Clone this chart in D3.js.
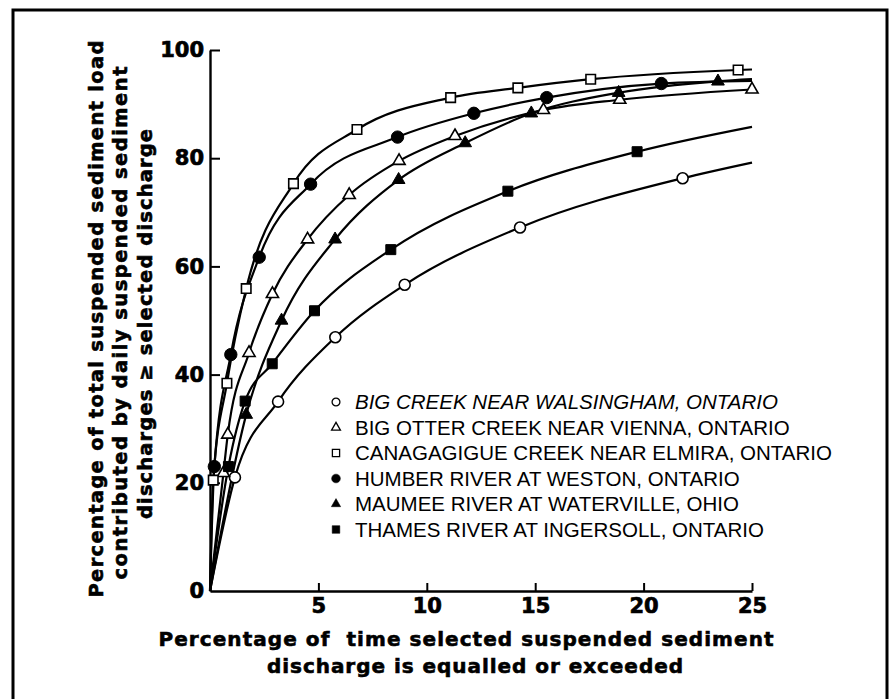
<!DOCTYPE html>
<html><head><meta charset="utf-8">
<script src="https://cdn.jsdelivr.net/npm/d3@7"></script>
<style>body{margin:0;background:#fff} svg{display:block}</style>
</head><body>
<svg id="c" width="892" height="699"></svg>
<script>
// ---- data ----
const seriesNames = [
  "BIG CREEK NEAR WALSINGHAM, ONTARIO",
  "BIG OTTER CREEK NEAR VIENNA, ONTARIO",
  "CANAGAGIGUE CREEK NEAR ELMIRA, ONTARIO",
  "HUMBER RIVER AT WESTON, ONTARIO",
  "MAUMEE RIVER AT WATERVILLE, OHIO",
  "THAMES RIVER AT INGERSOLL, ONTARIO"
];
const bigCreekX = [0, 1.15, 3.14, 5.78, 8.98, 14.3, 21.8, 25];
const bigCreekY = [0, 21.0, 35.0, 46.9, 56.6, 67.2, 76.3, 79.2];
const bigOtterX = [0, 0.62, 0.82, 1.8, 2.88, 4.5, 6.42, 8.72, 11.3, 15.38, 18.9, 25];
const bigOtterY = [0, 21.8, 28.9, 44.0, 54.9, 65.0, 73.2, 79.5, 84.1, 88.9, 90.8, 92.7];
const canagX = [0, 0.15, 0.78, 1.67, 3.85, 6.78, 11.1, 14.2, 17.56, 24.36, 25];
const canagY = [0, 20.5, 38.4, 55.9, 75.3, 85.3, 91.2, 93.0, 94.6, 96.3, 96.4];
const humberX = [0, 0.2, 0.96, 2.27, 4.64, 8.65, 12.17, 15.53, 20.82, 25];
const humberY = [0, 23.0, 43.7, 61.7, 75.2, 83.9, 88.3, 91.2, 93.8, 94.3];
const maumeeX = [0, 1.67, 3.3, 5.77, 8.7, 11.77, 14.82, 18.85, 23.43, 25];
const maumeeY = [0, 32.6, 50.0, 65.0, 76.0, 82.8, 88.3, 92.1, 94.2, 94.6];
const thamesX = [0, 0.85, 1.62, 2.87, 4.82, 8.34, 13.74, 19.7, 25];
const thamesY = [0, 23.0, 35.1, 42.0, 51.8, 63.1, 73.9, 81.2, 85.8];
// last point carries a marker?
const endMarked = [false, true, false, false, false, false];
const xTicks = [5, 10, 15, 20, 25];
const yTicks = [0, 20, 40, 60, 80, 100];
const yTitle = ["Percentage of total suspended sediment load",
                "contributed by daily suspended sediment",
                "discharges \u2265 selected discharge"];
const xTitle = ["Percentage of  time selected suspended sediment",
                "discharge is equalled or exceeded"];

// ---- drawing ----
const svg = d3.select('#c');
const x = d3.scaleLinear().domain([0, 25]).range([210, 752]);
const y = d3.scaleLinear().domain([0, 100]).range([591, 50]);
const boldFont = "'DejaVu Sans', sans-serif";

svg.append('rect').attr('x', 13).attr('y', 10).attr('width', 874).attr('height', 730)
  .attr('fill', 'none').attr('stroke', '#000').attr('stroke-width', 3);

const symbols = [
  {type: d3.symbolCircle, filled: false, size: 95, lsize: 48},
  {type: d3.symbolTriangle, filled: false, size: 64, lsize: 34},
  {type: d3.symbolSquare, filled: false, size: 90, lsize: 52},
  {type: d3.symbolCircle, filled: true, size: 120, lsize: 60},
  {type: d3.symbolTriangle, filled: true, size: 70, lsize: 38},
  {type: d3.symbolSquare, filled: true, size: 100, lsize: 58}
];
const xsAll = [bigCreekX, bigOtterX, canagX, humberX, maumeeX, thamesX];
const ysAll = [bigCreekY, bigOtterY, canagY, humberY, maumeeY, thamesY];
const series = seriesNames.map((n, i) => ({
  name: n, sym: symbols[i], end: endMarked[i],
  pts: xsAll[i].map((v, j) => [v, ysAll[i][j]])
}));

// axes
const gy = svg.append('g').attr('transform', `translate(${x(0)},0)`)
  .call(d3.axisLeft(y).tickValues(yTicks).tickSizeInner(-10).tickSizeOuter(0).tickPadding(6));
const gx = svg.append('g').attr('transform', `translate(0,${y(0)})`)
  .call(d3.axisBottom(x).tickValues(xTicks).tickSizeInner(-8).tickSizeOuter(0).tickPadding(7));
[gy, gx].forEach(g => {
  g.select('.domain').attr('stroke', '#000').attr('stroke-width', 2.4);
  g.selectAll('.tick line').attr('stroke', '#000').attr('stroke-width', 2);
  g.selectAll('.tick text').attr('fill', '#000').style('font-family', boldFont)
    .style('font-weight', 'bold').style('font-size', '21px')
    .attr('stroke', '#000').attr('stroke-width', 0.7);
});
gy.selectAll('.tick').filter(d => d === 0).select('line').remove();

// curves
const line = d3.line().x(d => x(d[0])).y(d => y(d[1])).curve(d3.curveMonotoneX);
series.forEach(s => {
  svg.append('path').datum(s.pts).attr('d', line)
    .attr('fill', 'none').attr('stroke', '#000').attr('stroke-width', 2.2);
});
series.forEach(s => {
  const marked = s.pts.filter((p, j) => j > 0 && (j < s.pts.length - 1 || s.end));
  svg.append('g').selectAll('path').data(marked).join('path')
    .attr('transform', d => `translate(${x(d[0])},${y(d[1])})`)
    .attr('d', d3.symbol().type(s.sym.type).size(s.sym.size))
    .attr('fill', s.sym.filled ? '#000' : '#fff')
    .attr('stroke', '#000').attr('stroke-width', s.sym.filled ? 1 : 1.6);
});

// legend
const legY = [402, 427.5, 453, 478.5, 504, 529.5];
series.forEach((s, i) => {
  svg.append('path').attr('transform', `translate(336,${legY[i]})`)
    .attr('d', d3.symbol().type(s.sym.type).size(s.sym.lsize))
    .attr('fill', s.sym.filled ? '#000' : '#fff')
    .attr('stroke', '#000').attr('stroke-width', s.sym.filled ? 0.5 : 1.3);
  svg.append('text').attr('x', 355).attr('y', legY[i]).attr('dy', '0.36em')
    .style('font-family', "'Liberation Sans', Arial, sans-serif")
    .style('font-size', '20.5px')
    .style('font-style', i === 0 ? 'italic' : 'normal')
    .text(s.name);
});

// y title
const yT = [{x: 96, y: 319, len: 557}, {x: 120, y: 323, len: 513}, {x: 145, y: 324, len: 390}];
yTitle.forEach((t, i) => {
  svg.append('text').attr('transform', `translate(${yT[i].x},${yT[i].y}) rotate(-90)`)
    .attr('text-anchor', 'middle').attr('dominant-baseline', 'central')
    .attr('textLength', yT[i].len).attr('lengthAdjust', 'spacing')
    .attr('stroke', '#000').attr('stroke-width', 0.6)
    .style('font-family', boldFont).style('font-weight', 'bold').style('font-size', '19.5px')
    .text(t);
});
// x title
const xT = [{x: 466, y: 646, len: 615}, {x: 475, y: 673, len: 416}];
xTitle.forEach((t, i) => {
  svg.append('text').attr('x', xT[i].x).attr('y', xT[i].y)
    .attr('text-anchor', 'middle').style('white-space', 'pre')
    .attr('textLength', xT[i].len).attr('lengthAdjust', 'spacing')
    .attr('stroke', '#000').attr('stroke-width', 0.6)
    .style('font-family', boldFont).style('font-weight', 'bold').style('font-size', '20px')
    .text(t);
});
</script>
</body></html>
